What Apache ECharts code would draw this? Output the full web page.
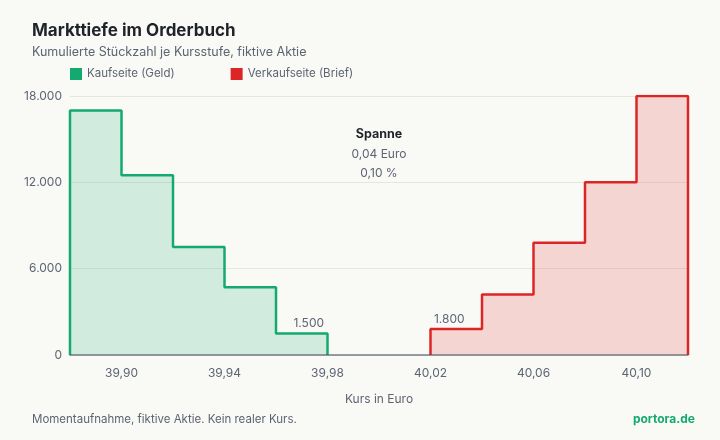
<!DOCTYPE html>
<html lang="de">
<head>
<meta charset="utf-8">
<title>Markttiefe im Orderbuch</title>
<script src="https://cdn.jsdelivr.net/npm/echarts@6/dist/echarts.min.js"></script>
<style>
  html, body { margin: 0; padding: 0; background: #f9f9f6; }
  #chart { width: 720px; height: 440px; }
</style>
</head>
<body>
<div id="chart"></div>
<script>
// Kaufseite: Kurs und kumulierte Stückzahl (Bestes Gebot zuerst)
const bidPrices = [39.98, 39.96, 39.94, 39.92, 39.90];
const bidQty = [1500, 4700, 7500, 12500, 17000];
// Verkaufseite: Kurs und kumulierte Stückzahl (Bester Brief zuerst)
const askPrices = [40.02, 40.04, 40.06, 40.08, 40.10];
const askQty = [1800, 4200, 7800, 12000, 18000];

const tickStep = 0.02;
const yTicks = [0, 6000, 12000, 18000];

const green = "#14a96f";
const red = "#dc2626";
const muted = "#5d6472";

function fmtDe(n, digits) {
  const s = n.toFixed(digits).replace(".", ",");
  const [a, b] = s.split(",");
  const grouped = a.replace(/\B(?=(\d{3})+(?!\d))/g, ".");
  return b ? grouped + "," + b : grouped;
}

// each bid level covers [p - step, p], each ask level covers [p, p + step]
function bidPath() {
  const pts = [];
  const levels = bidPrices.map((p, i) => [p, bidQty[i]]).sort((a, b) => a[0] - b[0]);
  pts.push([levels[0][0] - tickStep, 0]);
  levels.forEach(([p, q]) => {
    pts.push([p - tickStep, q]);
    pts.push([p, q]);
  });
  pts.push([levels[levels.length - 1][0], 0]);
  return pts;
}

function askPath() {
  const pts = [];
  const levels = askPrices.map((p, i) => [p, askQty[i]]).sort((a, b) => a[0] - b[0]);
  pts.push([levels[0][0], 0]);
  levels.forEach(([p, q]) => {
    pts.push([p, q]);
    pts.push([p + tickStep, q]);
  });
  pts.push([levels[levels.length - 1][0] + tickStep, 0]);
  return pts;
}

const xMin = Math.min(...bidPrices) - tickStep;
const xMax = Math.max(...askPrices) + tickStep;
const bestBid = Math.max(...bidPrices);
const bestAsk = Math.min(...askPrices);
const spread = bestAsk - bestBid;
const mid = (bestAsk + bestBid) / 2;

const chart = echarts.init(document.getElementById("chart"));

chart.setOption({
  backgroundColor: "#f9f9f6",
  animation: false,
  textStyle: { fontFamily: "Inter, 'Noto Sans', sans-serif" },
  title: [
    {
      text: "Markttiefe im Orderbuch",
      left: 32,
      top: 22,
      padding: 0,
      textStyle: { fontSize: 17, fontWeight: "bold", color: "#1f2329" }
    },
    {
      text: "Kumulierte Stückzahl je Kursstufe, fiktive Aktie",
      left: 32,
      top: 46,
      padding: 0,
      textStyle: { fontSize: 12.5, fontWeight: "normal", color: muted }
    },
    {
      text: "Momentaufnahme, fiktive Aktie. Kein realer Kurs.",
      left: 32,
      top: 414,
      padding: 0,
      textStyle: { fontSize: 11.5, fontWeight: "normal", color: muted }
    },
    {
      text: "portora.de",
      right: 25,
      top: 413,
      padding: 0,
      textStyle: { fontSize: 12, fontWeight: "bold", color: green }
    }
  ],
  legend: {
    left: 70,
    top: 68,
    padding: 0,
    icon: "rect",
    itemWidth: 12,
    itemHeight: 12,
    itemGap: 56,
    textStyle: { fontSize: 11.5, color: muted },
    data: [
      { name: "Kaufseite (Geld)", itemStyle: { color: green } },
      { name: "Verkaufseite (Brief)", itemStyle: { color: red } }
    ]
  },
  grid: { left: 70, right: 32, top: 96, bottom: 85, containLabel: false },
  xAxis: {
    type: "value",
    min: xMin,
    max: xMax,
    interval: tickStep,
    z: 10,
    name: "Kurs in Euro",
    nameLocation: "middle",
    nameGap: 38,
    nameTextStyle: { fontSize: 12, color: muted },
    axisLine: { lineStyle: { color: "#4b5563", width: 1.5, opacity: 0.75 } },
    axisTick: { show: false },
    splitLine: { show: false },
    axisLabel: {
      margin: 12,
      fontSize: 12,
      color: muted,
      showMinLabel: false,
      showMaxLabel: false,
      formatter: (v) => (Math.round(v * 100) % 4 === 2 ? fmtDe(v, 2) : "")
    }
  },
  yAxis: {
    type: "value",
    min: 0,
    max: yTicks[yTicks.length - 1],
    interval: yTicks[1] - yTicks[0],
    axisLine: { show: false },
    axisTick: { show: false },
    axisLabel: { margin: 8, fontSize: 12, color: muted, formatter: (v) => fmtDe(v, 0) },
    splitLine: { lineStyle: { color: "#e6e6e1" } }
  },
  series: [
    {
      name: "Kaufseite (Geld)",
      type: "line",
      data: bidPath(),
      symbol: "none",
      lineStyle: { color: green, width: 2.5 },
      itemStyle: { color: green },
      areaStyle: { color: green, opacity: 0.17 },
      markPoint: {
        symbol: "circle",
        symbolSize: 0,
        silent: true,
        data: [
          {
            coord: [bestBid - tickStep / 2, bidQty[0]],
            label: {
              show: true,
              formatter: fmtDe(bidQty[0], 0),
              offset: [7, -10],
              fontSize: 12,
              color: muted
            }
          },
          {
            coord: [mid, 14000],
            label: {
              show: true,
              formatter: "{h|Spanne}\n{v|" + fmtDe(spread, 2) + " Euro}\n{v|" + fmtDe(spread / mid * 100, 2) + " %}",
              rich: {
                h: { fontSize: 12.5, fontWeight: "bold", color: "#1f2329", lineHeight: 20, align: "center" },
                v: { fontSize: 12, color: muted, lineHeight: 19, align: "center" }
              }
            }
          }
        ]
      }
    },
    {
      name: "Verkaufseite (Brief)",
      type: "line",
      data: askPath(),
      symbol: "none",
      lineStyle: { color: red, width: 2.5 },
      itemStyle: { color: red },
      areaStyle: { color: red, opacity: 0.17 },
      markPoint: {
        symbol: "circle",
        symbolSize: 0,
        silent: true,
        data: [
          {
            coord: [bestAsk + tickStep / 2, askQty[0]],
            label: {
              show: true,
              formatter: fmtDe(askQty[0], 0),
              offset: [-7, -10],
              fontSize: 12,
              color: muted
            }
          }
        ]
      }
    }
  ]
});
</script>
</body>
</html>
